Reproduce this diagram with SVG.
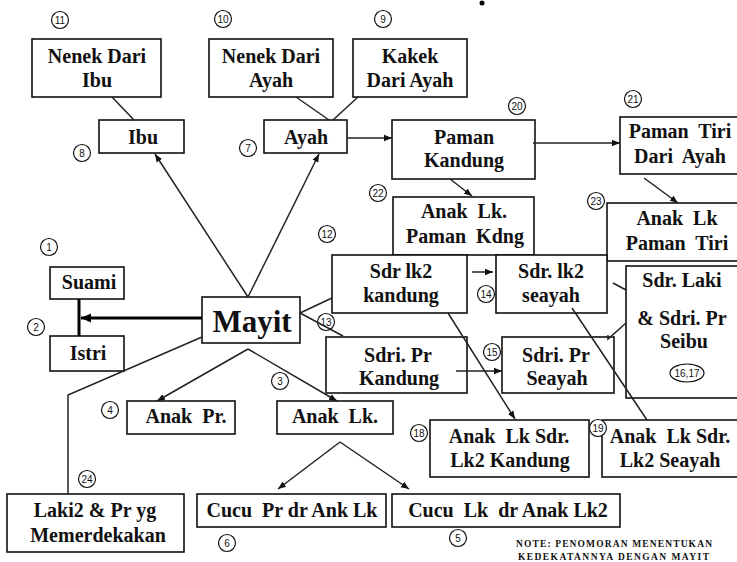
<svg xmlns="http://www.w3.org/2000/svg" width="737" height="562" viewBox="0 0 737 562">
<style>
.box{fill:#fff;stroke:#111;stroke-width:1.6}
.t{font-family:"Liberation Serif","Times New Roman",serif;font-weight:bold;font-size:20px;text-anchor:middle;fill:#111;white-space:pre}
.big{font-size:31px}
.c{fill:#fff;stroke:#111;stroke-width:1.2}
.n{font-family:"Liberation Sans",Arial,sans-serif;font-size:10px;text-anchor:middle;fill:#111}
.ln{stroke:#222;stroke-width:1.5;fill:none}
.arr{marker-end:url(#ah)}
.thick{stroke:#000;stroke-width:3;fill:none}
.note{font-family:"Liberation Serif","Times New Roman",serif;font-weight:bold;font-size:9.5px;fill:#111}
</style>
<defs>
<marker id="ah" markerUnits="userSpaceOnUse" markerWidth="9" markerHeight="8" refX="8" refY="4" orient="auto">
<path d="M0,0.8 L8,4 L0,7.2 Z" fill="#111"/>
</marker>
<marker id="ahb" markerUnits="userSpaceOnUse" markerWidth="12" markerHeight="10" refX="10" refY="5" orient="auto">
<path d="M0,0.5 L10,5 L0,9.5 Z" fill="#000"/>
</marker>
</defs>
<rect width="737" height="562" fill="#fff"/>
<circle cx="482" cy="3" r="2.5" fill="#000"/>

<g id="nenek-ibu"><rect class="box" x="32" y="39" width="129" height="58"/><text class="t" x="97" y="63">Nenek Dari</text><text class="t" x="97" y="87">Ibu</text><circle class="c" cx="60" cy="20" r="8.5"/><text class="n" x="60" y="24">11</text></g>
<g id="nenek-ayah"><rect class="box" x="209" y="39" width="124" height="58"/><text class="t" x="271" y="63">Nenek Dari</text><text class="t" x="271" y="87">Ayah</text><circle class="c" cx="223" cy="19" r="8.5"/><text class="n" x="223" y="23">10</text></g>
<g id="kakek"><rect class="box" x="353" y="39" width="114" height="58"/><text class="t" x="410" y="63">Kakek</text><text class="t" x="410" y="87">Dari Ayah</text><circle class="c" cx="383" cy="19" r="8.5"/><text class="n" x="383" y="23">9</text></g>
<g id="ibu"><rect class="box" x="99" y="120" width="85" height="33"/><text class="t" x="143" y="144">Ibu</text><circle class="c" cx="82" cy="153" r="8.5"/><text class="n" x="82" y="157">8</text></g>
<g id="ayah"><rect class="box" x="264" y="120" width="83" height="33"/><text class="t" x="306" y="144">Ayah</text><circle class="c" cx="248" cy="148" r="8.5"/><text class="n" x="248" y="152">7</text></g>
<g id="paman-kandung"><rect class="box" x="392" y="120" width="143" height="59"/><text class="t" x="464" y="144">Paman</text><text class="t" x="464" y="167">Kandung</text><circle class="c" cx="517" cy="106" r="8.5"/><text class="n" x="517" y="110">20</text></g>
<g id="paman-tiri"><rect class="box" x="620" y="117" width="125" height="57"/><text class="t" x="680" y="138" xml:space="preserve">Paman  Tiri</text><text class="t" x="680" y="163" xml:space="preserve">Dari  Ayah</text><circle class="c" cx="633" cy="99" r="8.5"/><text class="n" x="633" y="103">21</text></g>
<g id="anak-lk-paman-kdng"><rect class="box" x="393" y="197" width="141" height="58"/><text class="t" x="464" y="218" xml:space="preserve">Anak  Lk.</text><text class="t" x="465" y="243" xml:space="preserve">Paman  Kdng</text><circle class="c" cx="378" cy="193" r="8.5"/><text class="n" x="378" y="197">22</text></g>
<g id="anak-lk-paman-tiri"><rect class="box" x="607" y="203" width="138" height="58"/><text class="t" x="677" y="225" xml:space="preserve">Anak  Lk</text><text class="t" x="677" y="250" xml:space="preserve">Paman  Tiri</text><circle class="c" cx="596" cy="201" r="8.5"/><text class="n" x="596" y="205">23</text></g>
<g id="sdr-lk2-kandung"><rect class="box" x="332" y="255" width="135" height="58"/><text class="t" x="401" y="278">Sdr lk2</text><text class="t" x="401" y="302">kandung</text><circle class="c" cx="327" cy="234" r="8.5"/><text class="n" x="327" y="238">12</text></g>
<g id="sdr-lk2-seayah"><rect class="box" x="496" y="255" width="111" height="58"/><text class="t" x="551" y="278">Sdr. lk2</text><text class="t" x="551" y="302">seayah</text><circle class="c" cx="486" cy="294" r="8.5"/><text class="n" x="486" y="298">14</text></g>
<g id="sdr-seibu"><rect class="box" x="626" y="266" width="120" height="132"/><text class="t" x="682" y="287">Sdr. Laki</text><text class="t" x="682" y="325">&amp; Sdri. Pr</text><text class="t" x="684" y="348">Seibu</text><ellipse class="c" cx="687" cy="373" rx="17" ry="9"/><text class="n" x="687" y="377">16,17</text></g>
<g id="sdri-pr-kandung"><rect class="box" x="326" y="337" width="141" height="56"/><text class="t" x="398" y="362">Sdri. Pr</text><text class="t" x="399" y="385">Kandung</text><circle class="c" cx="326" cy="322" r="8.5"/><text class="n" x="326" y="326">13</text></g>
<g id="sdri-pr-seayah"><rect class="box" x="502" y="337" width="112" height="56"/><text class="t" x="556" y="362">Sdri. Pr</text><text class="t" x="557" y="385">Seayah</text><circle class="c" cx="492" cy="352" r="8.5"/><text class="n" x="492" y="356">15</text></g>
<g id="suami"><rect class="box" x="50" y="267" width="74" height="32"/><text class="t" x="89" y="289">Suami</text><circle class="c" cx="49" cy="247" r="8.5"/><text class="n" x="49" y="251">1</text></g>
<g id="istri"><rect class="box" x="50" y="336" width="74" height="35"/><text class="t" x="88" y="360">Istri</text><circle class="c" cx="36" cy="327" r="8.5"/><text class="n" x="36" y="331">2</text></g>
<g id="mayit"><rect class="box" x="202" y="297" width="98" height="46"/><text class="t big" x="252" y="332">Mayit</text></g>
<g id="anak-pr"><rect class="box" x="127" y="401" width="108" height="33"/><text class="t" x="186" y="423" xml:space="preserve">Anak  Pr.</text><circle class="c" cx="110" cy="410" r="8.5"/><text class="n" x="110" y="414">4</text></g>
<g id="anak-lk"><rect class="box" x="277" y="401" width="116" height="33"/><text class="t" x="335" y="423" xml:space="preserve">Anak  Lk.</text><circle class="c" cx="280" cy="381" r="8.5"/><text class="n" x="280" y="385">3</text></g>
<g id="anak-lk-sdr-kandung"><rect class="box" x="430" y="420" width="159" height="57"/><text class="t" x="509" y="443" xml:space="preserve">Anak  Lk Sdr.</text><text class="t" x="510" y="467">Lk2 Kandung</text><circle class="c" cx="419" cy="433" r="8.5"/><text class="n" x="419" y="437">18</text></g>
<g id="anak-lk-sdr-seayah"><rect class="box" x="602" y="420" width="143" height="57"/><text class="t" x="670" y="443" xml:space="preserve">Anak  Lk Sdr.</text><text class="t" x="670" y="467">Lk2 Seayah</text><circle class="c" cx="598" cy="428" r="8.5"/><text class="n" x="598" y="432">19</text></g>
<g id="memerdekakan"><rect class="box" x="7" y="494" width="177" height="58"/><text class="t" x="95" y="517">Laki2 &amp; Pr yg</text><text class="t" x="98" y="542">Memerdekakan</text><circle class="c" cx="87" cy="479" r="8.5"/><text class="n" x="87" y="483">24</text></g>
<g id="cucu-pr"><rect class="box" x="197" y="494" width="189" height="33"/><text class="t" x="292" y="517" xml:space="preserve">Cucu  Pr dr Ank Lk</text><circle class="c" cx="227" cy="543" r="8.5"/><text class="n" x="227" y="547">6</text></g>
<g id="cucu-lk"><rect class="box" x="392" y="494" width="228" height="33"/><text class="t" x="508" y="517" xml:space="preserve">Cucu  Lk  dr Anak Lk2</text><circle class="c" cx="458" cy="538" r="8.5"/><text class="n" x="458" y="542">5</text></g>

<g id="connectors">
<line class="ln arr" x1="248" y1="297" x2="155" y2="154"/>
<line class="ln arr" x1="248" y1="297" x2="319" y2="154"/>
<line class="ln" x1="112" y1="97" x2="134" y2="120"/>
<line class="ln" x1="296" y1="97" x2="329" y2="120"/>
<line class="ln" x1="358" y1="97" x2="333" y2="120"/>
<line class="ln arr" x1="347" y1="138" x2="392" y2="138"/>
<line class="ln arr" x1="533" y1="143" x2="620" y2="143"/>
<line class="ln arr" x1="450" y1="179" x2="472" y2="196"/>
<line class="ln arr" x1="644" y1="178" x2="678" y2="203"/>
<line class="ln arr" x1="472" y1="272" x2="493" y2="272"/>
<line class="ln" x1="300" y1="313" x2="332" y2="298"/>
<line class="ln" x1="300" y1="313" x2="343" y2="336"/>
<line class="ln arr" x1="456" y1="371" x2="502" y2="371"/>
<line class="ln arr" x1="448" y1="313" x2="515" y2="419"/>
<line class="ln" x1="572" y1="308" x2="647" y2="420"/>
<line class="ln" x1="613" y1="283" x2="626" y2="290"/>
<polyline class="ln" points="626,323 608,339 608,335"/>
<line class="thick" x1="202" y1="318" x2="81" y2="318" marker-end="url(#ahb)"/>
<line class="thick" x1="79" y1="299" x2="79" y2="336"/>
<line class="ln arr" x1="248" y1="349" x2="157" y2="401"/>
<line class="ln arr" x1="248" y1="349" x2="337" y2="401"/>
<line class="ln arr" x1="340" y1="442" x2="278" y2="489"/>
<line class="ln arr" x1="340" y1="442" x2="409" y2="489"/>
<polyline class="ln" points="202,337 68,395 68,494"/>
</g>

<text class="note" x="516" y="547" textLength="196" lengthAdjust="spacing">NOTE: PENOMORAN MENENTUKAN</text>
<text class="note" x="518" y="560" textLength="191" lengthAdjust="spacing">KEDEKATANNYA DENGAN MAYIT</text>
</svg>
